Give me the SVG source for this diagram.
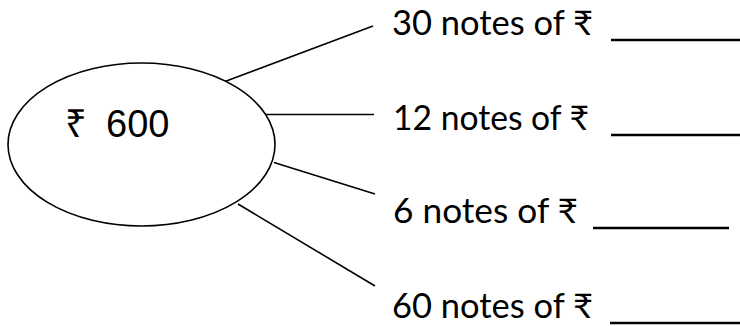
<svg xmlns="http://www.w3.org/2000/svg" width="740" height="326" viewBox="0 0 740 326">
<style>
.shape{fill:#fff;stroke:#000;stroke-width:1.6}
.conn{stroke:#000;stroke-width:1.6;fill:none}
.blank{stroke:#000;stroke-width:2.6}
.lbl{font-family:Lato,"Noto Sans","DejaVu Sans",sans-serif;font-size:34px;fill:#000}
.main{font-family:"Liberation Sans","Noto Sans","DejaVu Sans",sans-serif;font-size:38px;fill:#000}
</style>
<rect width="740" height="326" fill="#fff"/>
<g id="connectors">
<line class="conn" x1="225" y1="81.5" x2="373" y2="26"/>
<line class="conn" x1="264" y1="114.5" x2="374" y2="114.5"/>
<line class="conn" x1="274" y1="162.5" x2="375" y2="194"/>
<line class="conn" x1="238" y1="204" x2="375" y2="286"/>
</g>
<g id="center">
<ellipse class="shape" cx="141.5" cy="144.5" rx="133.5" ry="81.5"/>
<text class="main" y="137"><tspan x="65">₹</tspan> <tspan x="106">600</tspan></text>
</g>
<g id="n30">
<text class="lbl" x="392" y="35" textLength="201" lengthAdjust="spacingAndGlyphs">30 notes of ₹</text>
<line class="blank" x1="611" y1="40" x2="740" y2="40"/>
</g>
<g id="n12">
<text class="lbl" x="393" y="130" textLength="196" lengthAdjust="spacingAndGlyphs">12 notes of ₹</text>
<line class="blank" x1="611" y1="135" x2="740" y2="135"/>
</g>
<g id="n6">
<text class="lbl" x="393" y="223" textLength="185" lengthAdjust="spacingAndGlyphs">6 notes of ₹</text>
<line class="blank" x1="593" y1="228" x2="729" y2="228"/>
</g>
<g id="n60">
<text class="lbl" x="392" y="318" textLength="201" lengthAdjust="spacingAndGlyphs">60 notes of ₹</text>
<line class="blank" x1="610" y1="323" x2="740" y2="323"/>
</g>
</svg>
